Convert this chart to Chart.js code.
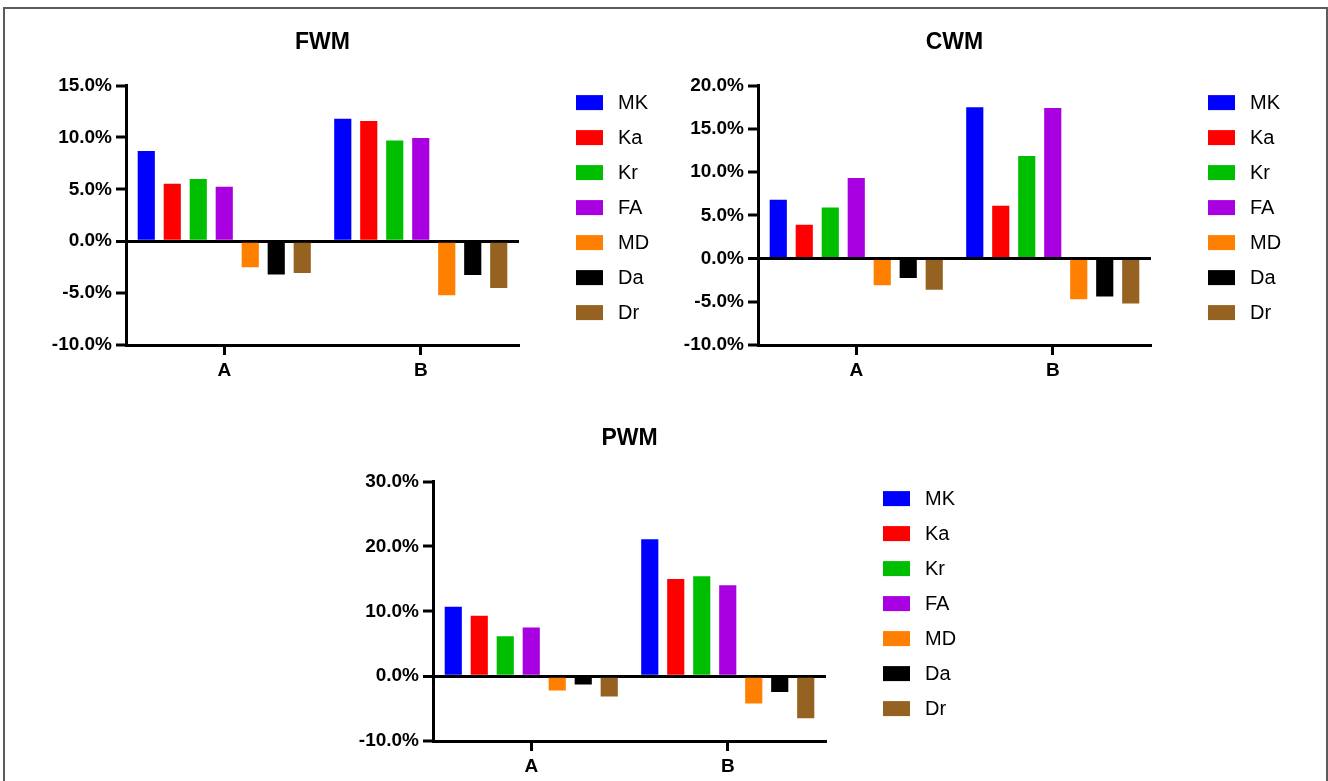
<!DOCTYPE html>
<html>
<head>
<meta charset="utf-8">
<style>
  body { margin: 0; background: #fff; }
  .frame { position: absolute; left: 3px; top: 7px; width: 1321px; height: 800px; border: 2px solid #5b5b5b; border-bottom: none; }
  .box { position: absolute; width: 640px; height: 381px; }
</style>
</head>
<body>
<div class="frame"></div>
<div class="box" style="left:26px;top:0px"><canvas id="fwm" width="640" height="381"></canvas></div>
<div class="box" style="left:658px;top:0px"><canvas id="cwm" width="640" height="381"></canvas></div>
<div class="box" style="left:333px;top:396px"><canvas id="pwm" width="640" height="381"></canvas></div>
<script src="https://cdn.jsdelivr.net/npm/chart.js@4.4.1/dist/chart.umd.min.js"></script>
<script>
    const categories = ["A", "B"];
    const series = ["MK", "Ka", "Kr", "FA", "MD", "Da", "Dr"];
    const seriesColors = ["#0000ff", "#ff0000", "#00bf00", "#a800e0", "#ff8000", "#000000", "#956222"];

    // values in %, one entry per series, for group A and group B
    const fwmA = [8.7, 5.55, 6.0, 5.25, -2.5, -3.2, -3.05];
    const fwmB = [11.8, 11.6, 9.7, 9.95, -5.2, -3.25, -4.5];
    const cwmA = [6.8, 3.9, 5.9, 9.3, -3.1, -2.25, -3.6];
    const cwmB = [17.5, 6.1, 11.85, 17.4, -4.7, -4.4, -5.2];
    const pwmA = [10.7, 9.3, 6.15, 7.5, -2.2, -1.3, -3.15];
    const pwmB = [21.1, 15.0, 15.4, 14.0, -4.2, -2.45, -6.5];

    Chart.defaults.font.family = '"Liberation Sans", Arial, sans-serif';
    Chart.defaults.color = "#000";

    // legend drawn to the right of the plot, one row per dataset
    const sideLegend = {
        id: "sideLegend",
        afterDraw(chart) {
            const ctx = chart.ctx;
            const area = chart.chartArea;
            ctx.save();
            ctx.font = '20px "Liberation Sans", Arial, sans-serif';
            ctx.textBaseline = "middle";
            chart.data.datasets.forEach((ds, i) => {
                const x = area.right + 57;
                const y = area.top + 17 + i * 35;
                ctx.fillStyle = ds.backgroundColor;
                ctx.fillRect(x, y - 7.5, 27, 15);
                ctx.fillStyle = "#000";
                ctx.fillText(ds.label, x + 42, y + 1);
            });
            ctx.restore();
        }
    };

    function makeChart(id, title, valuesA, valuesB, yMax, yStep) {
        const datasets = series.map((name, i) => ({
            label: name,
            data: [valuesA[i], valuesB[i]],
            backgroundColor: seriesColors[i],
            categoryPercentage: 0.926,
            barPercentage: 0.66
        }));
        return new Chart(document.getElementById(id), {
            type: "bar",
            data: { labels: categories, datasets: datasets },
            options: {
                responsive: false,
                animation: false,
                layout: { padding: { left: 0, right: 147, top: 0, bottom: 0 } },
                plugins: {
                    legend: { display: false },
                    tooltip: { enabled: false },
                    title: {
                        display: true, text: title, fullSize: false, color: "#000",
                        font: { size: 23, weight: "bold" },
                        padding: { top: 29, bottom: 29 }
                    }
                },
                scales: {
                    x: {
                        offset: true,
                        grid: { display: true, offset: false, drawOnChartArea: false, drawTicks: true,
                                tickLength: 10, tickWidth: 3, tickColor: "#000" },
                        border: { display: true, color: "#000", width: 3 },
                        ticks: { color: "#000", font: { size: 19, weight: "bold" }, padding: 4 },
                        afterFit: s => { s.height = 36; }
                    },
                    y: {
                        min: -10, max: yMax,
                        ticks: { stepSize: yStep, color: "#000", font: { size: 19, weight: "bold" }, padding: 4,
                                 callback: v => v.toFixed(1) + "%" },
                        grid: { color: "#000", lineWidth: c => (c.tick && c.tick.value === 0) ? 3 : 0,
                                drawTicks: true, tickLength: 10, tickWidth: 3, tickColor: "#000" },
                        border: { display: true, color: "#000", width: 3 },
                        afterFit: s => { s.width = 100; }
                    }
                }
            },
            plugins: [sideLegend]
        });
    }

    makeChart("fwm", "FWM", fwmA, fwmB, 15, 5);
    makeChart("cwm", "CWM", cwmA, cwmB, 20, 5);
    makeChart("pwm", "PWM", pwmA, pwmB, 30, 10);
</script>
</body>
</html>
